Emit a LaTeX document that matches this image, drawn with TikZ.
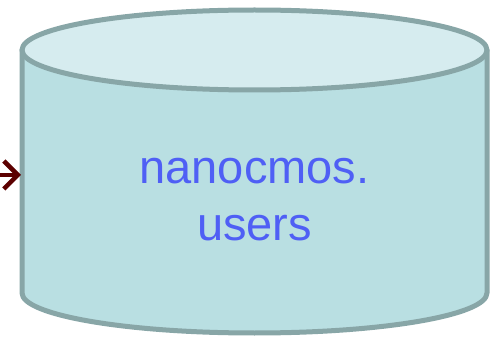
\documentclass[tikz,border=0pt]{standalone}
\usepackage{fontspec}
\setmainfont{Liberation Sans}
\usetikzlibrary{arrows.meta}
\definecolor{sidefill}{HTML}{B9DFE2}
\definecolor{topfill}{HTML}{D6ECEF}
\definecolor{edge}{HTML}{88A6A7}
\definecolor{txt}{HTML}{4F5FF5}
\definecolor{arr}{HTML}{5C0000}
\tikzset{
  cyl/.style={draw=edge, line width=5pt, line join=round},
  conn/.style={draw=arr, line width=4.5pt, -{Straight Barb[length=14pt,width=28pt]}},
  lbl/.style={text=txt, font=\fontsize{47}{57}\selectfont, align=center, inner sep=0pt}
}
\begin{document}
\begin{tikzpicture}[x=1pt,y=-1pt]
\useasboundingbox (0,0) rectangle (491,337);
% body
\path[cyl, fill=sidefill] (22,50) -- (22,293) arc[start angle=180, end angle=0, x radius=232.5, y radius=40] -- (487,50) -- cycle;
\path[cyl, fill=topfill] (254.5,50) ellipse[x radius=232.5, y radius=40];
\node[lbl] (t) at (254.5,200) {nanocmos.\\users};
\coordinate (src) at (-6,175);
\coordinate (in) at (21,175);
\draw[conn] (src) -- (in);
\end{tikzpicture}
\end{document}
